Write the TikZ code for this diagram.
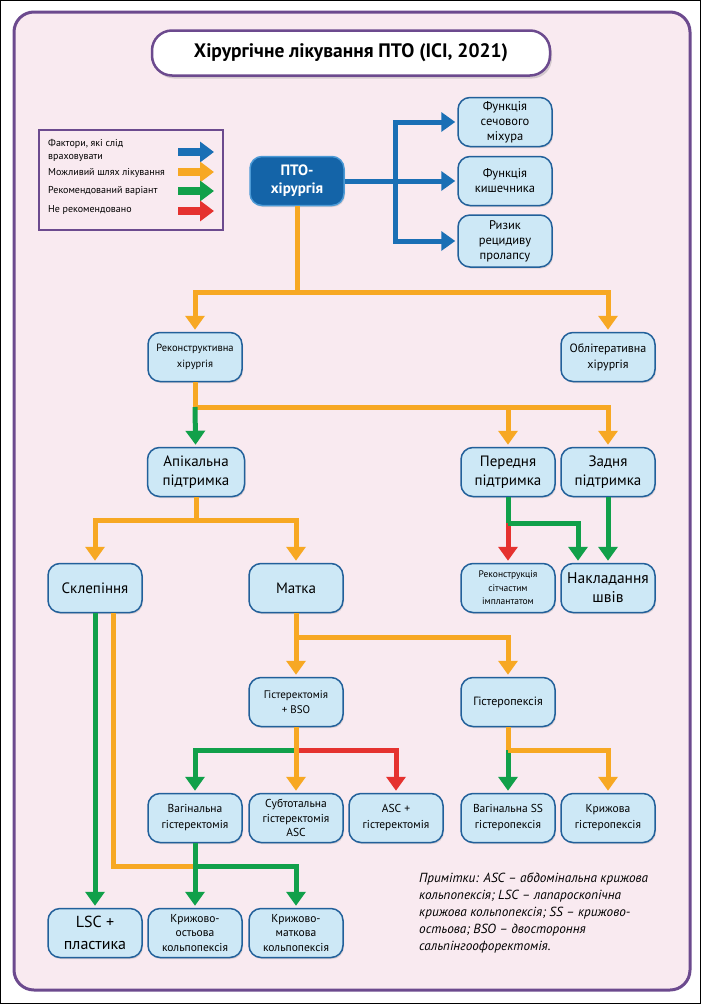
\documentclass[tikz,border=0pt]{standalone}
\usepackage{fontspec}
\setmainfont{PT Sans}
\usetikzlibrary{arrows.meta,shadows}

\definecolor{pagepink}{HTML}{F9EAF0}
\definecolor{framepurple}{HTML}{6C4A8E}
\definecolor{boxfill}{HTML}{CDE8F6}
\definecolor{boxline}{HTML}{22609A}
\definecolor{ptofill}{HTML}{1464A8}
\definecolor{ptoline}{HTML}{4C9AD6}
\definecolor{cblue}{HTML}{1A6FB5}
\definecolor{corange}{HTML}{F7A823}
\definecolor{cgreen}{HTML}{11A04A}
\definecolor{cred}{HTML}{E5322F}

\newcommand{\fsz}[2]{\fontsize{#1}{#2}\selectfont}

\begin{document}
\begin{tikzpicture}[x=1pt, y=-1pt,
  box/.style={draw=boxline, fill=boxfill, line width=1.5pt, rounded corners=12pt,
    minimum width=94pt, minimum height=49pt, align=center, inner sep=1pt,
    drop shadow={opacity=0.25, shadow xshift=1pt, shadow yshift=-1.5pt}},
  ptobox/.style={box, draw=ptoline, fill=ptofill, text=white, font=\bfseries\fsz{15}{18}},
  link/.style={line width=5pt},
  tip/.style={link, -{Triangle[width=19pt,length=14pt]}, shorten >=2pt},
  oline/.style={link, color=corange},
  oarrow/.style={tip, color=corange},
  gline/.style={link, color=cgreen},
  garrow/.style={tip, color=cgreen},
  rarrow/.style={tip, color=cred},
  bline/.style={link, color=cblue},
  barrow/.style={tip, color=cblue},
  legarrow/.style={line width=7.5pt, -{Triangle[width=20pt,length=14pt]}},
  legtext/.style={anchor=west, inner sep=0pt, font=\fsz{10}{12}}
]
\useasboundingbox (0,0) rectangle (701,1004);
\draw[black, line width=1pt] (0.5,0.5) rectangle (700.5,1003.5);
\draw[framepurple, fill=pagepink, line width=3pt, rounded corners=20pt] (14,12) rectangle (690,990);

\node[draw=framepurple, fill=white, line width=2.5pt, rounded corners=20pt,
  minimum width=398pt, minimum height=45pt, font=\bfseries\fsz{19.5}{22},
  drop shadow={opacity=0.3, shadow xshift=2pt, shadow yshift=-3pt}] (title) at (351,53)
  {Хірургічне лікування ПТО (ICI, 2021)};

\draw[framepurple, line width=1.5pt] (39,130) rectangle (223,230);
\node[legtext] (lg1) at (48,144) {Фактори, які слід};
\node[legtext] (lg2) at (48,158) {враховувати};
\node[legtext] (lg3) at (48,173) {Можливий шлях лікування};
\node[legtext] (lg4) at (48,191) {Рекомендований варіант};
\node[legtext] (lg5) at (48,210) {Не рекомендовано};
\draw[legarrow, color=cblue] (178,152) -- (214,152);
\draw[legarrow, color=corange] (178,172) -- (214,172);
\draw[legarrow, color=cgreen] (178,191) -- (214,191);
\draw[legarrow, color=cred] (178,211) -- (214,211);

\node[ptobox] (pto) at (297,181) {ПТО-\\хірургія};
\node[box, font=\fsz{12.5}{15}] (f1) at (505,122) {Функція\\сечового\\міхура};
\node[box, font=\fsz{12.5}{15}] (f2) at (505,181) {Функція\\кишечника};
\node[box, font=\fsz{12.5}{15}, minimum height=52pt] (f3) at (505,241) {Ризик\\рецидиву\\пролапсу};

\node[box, font=\fsz{10.5}{16}] (rek) at (195,357) {Реконструктивна\\хірургія};
\node[box, font=\fsz{12}{16}] (obl) at (608,357) {Облітеративна\\хірургія};

\node[box, font=\fsz{15}{19}, minimum width=97pt] (api) at (196,472) {Апікальна\\підтримка};
\node[box, font=\fsz{15}{19}] (per) at (508,472) {Передня\\підтримка};
\node[box, font=\fsz{15}{19}] (zad) at (608,472) {Задня\\підтримка};

\node[box, font=\fsz{15}{18}] (skl) at (95,588) {Склепіння};
\node[box, font=\fsz{15}{18}] (mat) at (296,588) {Матка};
\node[box, font=\fsz{9.5}{13.5}] (rec) at (508,588) {Реконструкція\\сітчастим\\імплантатом};
\node[box, font=\fsz{15.5}{19}] (nak) at (608,588) {Накладання\\швів};

\node[box, font=\fsz{11}{15}] (gis) at (296,702) {Гістеректомія\\+ BSO};
\node[box, font=\fsz{12}{14}] (gpx) at (508,702) {Гістеропексія};

\node[box, font=\fsz{11.5}{16}] (vag) at (195,818) {Вагінальна\\гістеректомія};
\node[box, font=\fsz{11.5}{14.5}] (sub) at (296,818) {Субтотальна\\гістеректомія\\ASC};
\node[box, font=\fsz{11.5}{16}] (asc) at (396,818) {ASC +\\гістеректомія};
\node[box, font=\fsz{11.5}{16}] (vss) at (508,818) {Вагінальна SS\\гістеропексія};
\node[box, font=\fsz{11.5}{16}] (krg) at (608,818) {Крижова\\гістеропексія};

\node[box, font=\fsz{16}{22}] (lsc) at (95,933) {LSC +\\пластика};
\node[box, font=\fsz{11.5}{14.5}] (kro) at (195,933) {Крижово-\\остьова\\кольпопексія};
\node[box, font=\fsz{11.5}{14.5}] (krm) at (296,933) {Крижово-\\маткова\\кольпопексія};

\node[anchor=north west, align=left, inner sep=0pt, font=\itshape\fsz{13.2}{17}] (notes) at (419,873)
  {Примітки: ASC – абдомінальна крижова\\
   кольпопексія; LSC – лапароскопічна\\
   крижова кольпопексія; SS – крижово-\\
   остьова; BSO – двостороння\\
   сальпінгоофоректомія.};

\coordinate (bj) at (395,181);
\coordinate (tj) at (297,292);
\coordinate (rj) at (195,407);
\coordinate (aj) at (196,520);
\coordinate (pj) at (508,523);
\coordinate (mj) at (296,637);
\coordinate (hj) at (296,750);
\coordinate (xj) at (508,750);
\coordinate (vj) at (195,866);

\draw[bline] (pto) -- (bj);
\draw[barrow] (bj) |- (f1);
\draw[barrow] (bj) -- (f2);
\draw[barrow] (bj) |- (f3);

\draw[oline] (pto) -- (tj);
\draw[oarrow] (tj) -| (rek);
\draw[oarrow] (tj) -| (obl);

\draw[oline] (rek) -- (rj);
\draw[oarrow] (rj) -| (per);
\draw[oarrow] (rj) -| (zad);
\draw[garrow] (rj) -- (api);

\draw[oline] (api) -- (aj);
\draw[oarrow] (aj) -| (skl);
\draw[oarrow] (aj) -| (mat);

\draw[gline] (per) -- (pj);
\draw[rarrow] (pj) -- (rec);
\draw[garrow] (pj) -| ([xshift=-30pt]nak.north);
\draw[garrow] (zad) -- (nak);

\draw[oarrow] (mat) -- (gis);
\draw[oarrow] (mj) -| (gpx);

\draw[garrow] (hj) -| (vag);
\draw[rarrow] (hj) -| (asc);
\draw[oarrow] (gis) -- (sub);

\draw[oline] (gpx) -- (xj);
\draw[garrow] (xj) -- (vss);
\draw[oarrow] (xj) -| (krg);

\draw[garrow] (skl) -- (lsc);
\draw[oline] ([xshift=18pt]skl.south) |- (vj);
\draw[gline] (vag) -- (vj);
\draw[garrow] (vj) -- (kro);
\draw[garrow] (vj) -| (krm);
\end{tikzpicture}
\end{document}
